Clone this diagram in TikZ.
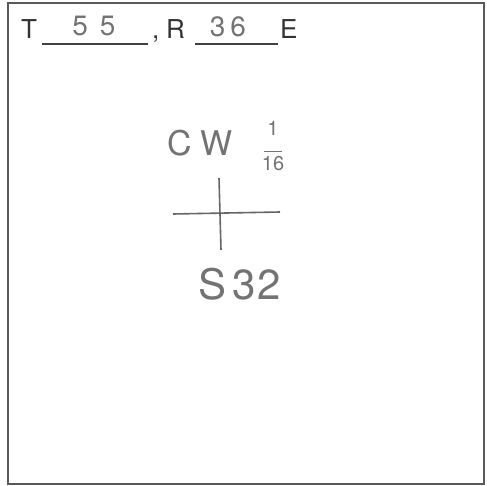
\documentclass[tikz,border=0pt]{standalone}
\usepackage{fontspec}
\setmainfont{TeX Gyre Heros}
\begin{document}
\begin{tikzpicture}[x=1pt,y=-1pt,
  frame/.style={draw=black!65,line width=2pt},
  rule/.style={draw=black!75,line width=1.5pt},
  printed/.style={anchor=base west,inner sep=0pt,font=\fontsize{26}{26}\selectfont,text=black!80},
  hand/.style={inner sep=0pt,text=black!55},
  pencil/.style={draw=black!60,line width=1.6pt}]
\useasboundingbox (0,0) rectangle (487,486);
\draw[frame] (8,3) rectangle (484,484);
\node[printed] (T) at (21,39) {T};
\coordinate (u1a) at (42,44); \coordinate (u1b) at (148,44);
\draw[rule] (u1a) -- (u1b);
\node[printed] (comma) at (152,39) {,};
\node[printed] (R) at (166,39) {R};
\coordinate (u2a) at (195,44); \coordinate (u2b) at (278,44);
\draw[rule] (u2a) -- (u2b);
\node[printed] (E) at (280,39) {E};
\node[hand,font=\fontsize{28}{28}\selectfont] (n55) at (94,26) {5\hspace{12pt}5};
\node[hand,font=\fontsize{28}{28}\selectfont] (n36) at (228,27) {3\hspace{5pt}6};
\node[hand,font=\fontsize{34}{34}\selectfont] (cw) at (200,143) {C\hspace{8pt}W};
\node[hand,font=\fontsize{20}{20}\selectfont,align=center] (frac) at (273,146) {1\\[-3pt]\rule{18pt}{1pt}\\[-2pt]16};
\coordinate (vt) at (219,178); \coordinate (vb) at (221,250);
\coordinate (hl) at (173,214); \coordinate (hr) at (280,212);
\draw[pencil] (vt) -- (vb);
\draw[pencil] (hl) -- (hr);
\node[hand,font=\fontsize{42}{42}\selectfont] (s32) at (240,284) {S\hspace{6pt}3\hspace{2pt}2};
\end{tikzpicture}
\end{document}
